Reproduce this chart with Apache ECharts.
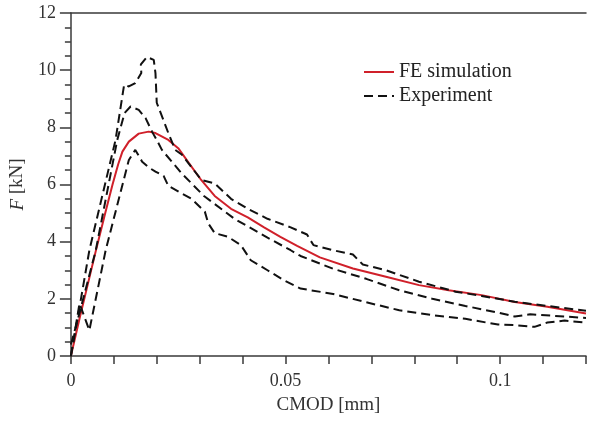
<!DOCTYPE html>
<html>
<head>
<meta charset="utf-8">
<script src="https://cdn.jsdelivr.net/npm/echarts@6/dist/echarts.min.js"></script>
<style>html,body{margin:0;padding:0;background:#fff}#c{width:589px;height:424px}</style>
</head>
<body>
<div id="c"></div>
<script>
// CMOD [mm] vs F [kN]
const feSim = [[0,0],[0.002,1.3],[0.004,2.55],[0.006,3.8],[0.008,5.0],[0.0097,6.0],[0.011,6.7],[0.012,7.15],[0.0135,7.5],[0.0158,7.78],[0.0181,7.85],[0.0197,7.8],[0.0227,7.56],[0.025,7.27],[0.0275,6.75],[0.0304,6.15],[0.0335,5.6],[0.0373,5.15],[0.0412,4.85],[0.045,4.5],[0.0488,4.17],[0.0527,3.85],[0.058,3.45],[0.0657,3.06],[0.0734,2.77],[0.0811,2.48],[0.088,2.3],[0.0957,2.13],[0.1034,1.89],[0.111,1.72],[0.12,1.49]];
const exp1 = [[0,0],[0.002,1.7],[0.0043,3.7],[0.0104,7.56],[0.0124,9.49],[0.0135,9.43],[0.015,9.55],[0.0164,9.9],[0.0163,10.2],[0.0177,10.46],[0.0193,10.36],[0.0197,9.9],[0.02,8.86],[0.0208,8.55],[0.0227,7.8],[0.0243,7.21],[0.0258,7.05],[0.0304,6.16],[0.0335,6.04],[0.0373,5.5],[0.0412,5.15],[0.0458,4.8],[0.0512,4.5],[0.055,4.25],[0.0565,3.88],[0.0611,3.7],[0.0657,3.55],[0.068,3.2],[0.0734,3.0],[0.0811,2.6],[0.0896,2.25],[0.0957,2.1],[0.1034,1.9],[0.111,1.75],[0.12,1.58]];
const exp2 = [[0,0.4],[0.002,1.5],[0.0058,3.7],[0.0108,7.56],[0.0125,8.5],[0.0139,8.73],[0.0143,8.73],[0.0158,8.61],[0.0174,8.32],[0.0189,7.85],[0.02,7.56],[0.0212,7.21],[0.0258,6.39],[0.031,5.6],[0.0381,4.8],[0.0458,4.14],[0.0512,3.7],[0.0535,3.5],[0.0611,3.05],[0.0688,2.7],[0.0765,2.3],[0.0842,2.0],[0.0919,1.75],[0.0995,1.52],[0.1034,1.38],[0.107,1.46],[0.115,1.38],[0.12,1.33]];
const exp3 = [[0,0],[0.002,1.84],[0.0043,0.9],[0.0081,3.7],[0.0135,6.86],[0.015,7.21],[0.0166,6.8],[0.0181,6.6],[0.0197,6.45],[0.0216,6.3],[0.0227,5.95],[0.0258,5.69],[0.0281,5.5],[0.0312,5.05],[0.032,4.64],[0.0335,4.3],[0.0366,4.17],[0.0396,3.88],[0.0419,3.35],[0.0458,3.0],[0.0496,2.65],[0.0535,2.36],[0.0611,2.17],[0.0688,1.88],[0.0765,1.6],[0.0842,1.43],[0.0919,1.3],[0.0995,1.1],[0.1034,1.08],[0.108,1.02],[0.111,1.17],[0.115,1.24],[0.12,1.17]];
const xLabels = ['0','0.05','0.1'];
const yLabels = ['0','2','4','6','8','10','12'];

const FONT = 'Liberation Serif';
const AX = '#3a3a3a';
const chart = echarts.init(document.getElementById('c'));
const dash = {color:'#111', width:2, type:[9,5]};
chart.setOption({
  animation:false,
  textStyle:{fontFamily:FONT},
  grid:{left:68, right:0, top:13, bottom:68},
  legend:{
    orient:'vertical', left:358, top:57, itemWidth:30, itemHeight:14, itemGap:4,
    itemStyle:{opacity:0},
    textStyle:{fontFamily:FONT, fontSize:20, color:'#222'},
    data:['FE simulation','Experiment']
  },
  xAxis:[{
    type:'value', min:0, max:0.12, interval:0.01,
    axisLine:{lineStyle:{color:AX, width:1.5}},
    axisTick:{length:8, lineStyle:{color:AX, width:1.5}},
    splitLine:{show:false},
    axisLabel:{margin:16, fontFamily:FONT, fontSize:18, color:'#333',
      formatter:v=>{const k=Math.round(v*100); return k%5===0 ? xLabels[k/5] : '';}},
    name:'CMOD [mm]', nameLocation:'middle', nameGap:40,
    nameTextStyle:{fontFamily:FONT, fontSize:19, color:'#333'}
  },{
    type:'value', min:0, max:0.12, position:'top',
    axisLine:{show:true, lineStyle:{color:AX, width:1.5}},
    axisTick:{show:false}, axisLabel:{show:false}, splitLine:{show:false}
  }],
  yAxis:[{
    type:'value', min:0, max:12, interval:2,
    axisLine:{show:true, lineStyle:{color:AX, width:1.5}},
    axisTick:{length:11, lineStyle:{color:AX, width:1.5}},
    minorTick:{show:true, splitNumber:4, length:6, lineStyle:{color:AX, width:1.5}},
    splitLine:{show:false},
    axisLabel:{margin:15, fontFamily:FONT, fontSize:18, color:'#333',
      formatter:v=>yLabels[Math.round(v/2)]},
    name:'{i|F} [kN]', nameLocation:'middle', nameGap:42,
    nameTextStyle:{fontFamily:FONT, fontSize:19, color:'#333',
      rich:{i:{fontFamily:FONT, fontSize:19, fontStyle:'italic', color:'#333'}}}
  }],
  series:[
    {name:'FE simulation', type:'line', data:feSim, symbol:'none', lineStyle:{color:'#d0202a', width:2}, itemStyle:{color:'#d0202a'}},
    {name:'Experiment', type:'line', data:exp1, symbol:'none', lineStyle:dash, itemStyle:{color:'#111'}},
    {name:'Experiment', type:'line', data:exp2, symbol:'none', lineStyle:dash, itemStyle:{color:'#111'}},
    {name:'Experiment', type:'line', data:exp3, symbol:'none', lineStyle:dash, itemStyle:{color:'#111'}}
  ]
});
</script>
</body>
</html>
